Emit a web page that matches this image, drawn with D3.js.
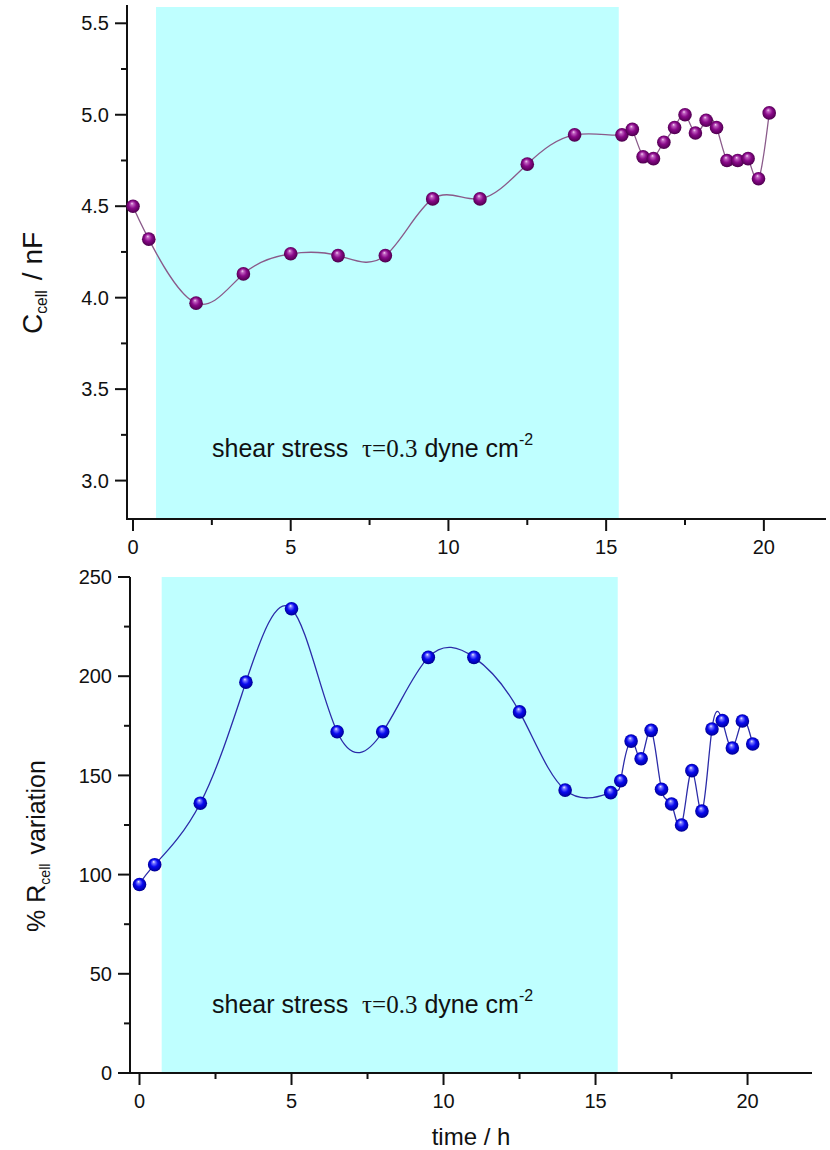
<!DOCTYPE html>
<html>
<head>
<meta charset="utf-8">
<script src="https://cdn.jsdelivr.net/npm/d3@7"></script>
<style>
  body { margin: 0; background: #fff; }
  text { font-family: "Liberation Sans", Arial, sans-serif; fill: #111; }
</style>
</head>
<body>
<svg id="chart" width="830" height="1150"></svg>
<script>
// Sampling times (h)
const timeH = [0, 0.5, 2, 3.5, 5, 6.5, 8, 9.5, 11, 12.5, 14, 15.5,
  15.83, 16.17, 16.5, 16.83, 17.17, 17.5, 17.83, 18.17, 18.5, 18.83, 19.17, 19.5, 19.83, 20.17];
// Cell capacitance (nF)
const capacitance = [4.50, 4.32, 3.97, 4.13, 4.24, 4.23, 4.23, 4.54, 4.54, 4.73, 4.89, 4.89,
  4.92, 4.77, 4.76, 4.85, 4.93, 5.00, 4.90, 4.97, 4.93, 4.75, 4.75, 4.76, 4.65, 5.01];
// Cell resistance variation (%)
const resistance = [95, 105, 136, 197, 234, 172, 172, 209.5, 209.5, 182, 142.6, 141.3,
  147.3, 167.3, 158.4, 172.7, 143, 135.6, 125, 152.4, 132, 173.4, 177.6, 163.8, 177.4, 165.8];
// Shear stress window (h)
const shearWindow = [0.73, 15.4];
const shearWindowR = [0.73, 15.73];
// Tick values
const xTicks = [0, 5, 10, 15, 20];
const xMinor = [2.5, 7.5, 12.5, 17.5];
const capTicks = [3.0, 3.5, 4.0, 4.5, 5.0, 5.5];
const capMinor = [3.25, 3.75, 4.25, 4.75, 5.25];
const resTicks = [0, 50, 100, 150, 200, 250];
const resMinor = [25, 75, 125, 175, 225];

const svg = d3.select("#chart");
const defs = svg.append("defs");

function sphereGradient(id, stops) {
  const g = defs.append("radialGradient").attr("id", id)
    .attr("cx", "50%").attr("cy", "50%").attr("r", "55%")
    .attr("fx", "42%").attr("fy", "28%");
  stops.forEach(([o, c]) => g.append("stop").attr("offset", o).attr("stop-color", c));
}
sphereGradient("ballPurple", [[0, "#f4d8f4"], [0.18, "#c060c0"], [0.5, "#8a0a8a"], [0.85, "#5a005a"], [1, "#3c003c"]]);
sphereGradient("ballBlue", [[0, "#f0f0ff"], [0.18, "#7a7aff"], [0.5, "#0a0af0"], [0.85, "#0000a8"], [1, "#00006a"]]);

function panel(cfg) {
  const x = d3.scaleLinear().domain(cfg.xDomain).range(cfg.xRange);
  const y = d3.scaleLinear().domain(cfg.yDomain).range(cfg.yRange);
  const g = svg.append("g");
  const x0 = cfg.xRange[0], yb = cfg.yRange[0], yt = cfg.yRange[1];

  // shaded shear stress window
  g.append("rect")
    .attr("x", x(cfg.band[0])).attr("width", x(cfg.band[1]) - x(cfg.band[0]))
    .attr("y", cfg.bandTop).attr("height", yb - cfg.bandTop)
    .attr("fill", "#bfffff");

  // annotation
  const t = g.append("text").attr("x", 212).attr("y", cfg.noteY)
    .attr("font-size", 25).style("white-space", "pre");
  t.append("tspan").text("shear stress  ");
  t.append("tspan").attr("font-family", "'Liberation Serif', 'Times New Roman', serif").text("τ=0.3");
  t.append("tspan").text(" dyne cm");
  t.append("tspan").attr("font-size", 16).attr("dy", -12).text("-2");

  // axes
  const ax = g.append("g").attr("stroke", "#111").attr("stroke-width", 2).attr("fill", "none");
  ax.append("line").attr("x1", x0).attr("x2", x0).attr("y1", yt).attr("y2", yb + 1);
  ax.append("line").attr("x1", x0 - 1).attr("x2", cfg.xRange[1]).attr("y1", yb).attr("y2", yb);
  ax.selectAll(".yt").data(cfg.yTicks).join("line")
    .attr("x1", x0 - 12).attr("x2", x0).attr("y1", d => y(d)).attr("y2", d => y(d));
  ax.selectAll(".ym").data(cfg.yMinor).join("line")
    .attr("x1", x0 - 6).attr("x2", x0).attr("y1", d => y(d)).attr("y2", d => y(d));
  ax.selectAll(".xt").data(xTicks).join("line")
    .attr("x1", d => x(d)).attr("x2", d => x(d)).attr("y1", yb).attr("y2", yb + 12);
  ax.selectAll(".xm").data(xMinor).join("line")
    .attr("x1", d => x(d)).attr("x2", d => x(d)).attr("y1", yb).attr("y2", yb + 6);

  g.selectAll(".ytl").data(cfg.yTicks).join("text")
    .attr("x", x0 - 18).attr("y", d => y(d)).attr("dy", "0.36em")
    .attr("text-anchor", "end").attr("font-size", 20)
    .text(cfg.yFormat);
  g.selectAll(".xtl").data(xTicks).join("text")
    .attr("x", d => x(d)).attr("y", yb + 35)
    .attr("text-anchor", "middle").attr("font-size", 20)
    .text(d => d);

  // y title
  const yt2 = g.append("text")
    .attr("transform", `translate(${cfg.titleX},${cfg.titleY}) rotate(-90)`)
    .attr("text-anchor", "middle").attr("font-size", cfg.titleSize);
  cfg.title.forEach(([s, sub]) => {
    if (sub) {
      yt2.append("tspan").attr("font-size", cfg.titleSize * 0.56).attr("dy", 5).text(s);
      yt2.append("tspan").attr("dy", -5).text("\u200a");
    } else yt2.append("tspan").text(s);
  });

  // series line
  const pts = timeH.map((d, i) => [d, cfg.values[i]]);
  g.append("path").datum(pts)
    .attr("fill", "none").attr("stroke", cfg.lineColor).attr("stroke-width", 1.3)
    .attr("d", d3.line().x(d => x(d[0])).y(d => y(d[1])).curve(d3.curveNatural));

  // spherical markers
  g.selectAll(".ball").data(pts).join("circle")
    .attr("cx", d => x(d[0])).attr("cy", d => y(d[1])).attr("r", 6.8)
    .attr("fill", `url(#${cfg.ball})`);
}

panel({
  xDomain: [-0.19, 21.97], xRange: [127, 826],
  yDomain: [2.79, 5.6], yRange: [519, 5],
  yTicks: capTicks, yMinor: capMinor, yFormat: d3.format(".1f"),
  band: shearWindow, bandTop: 7, noteY: 457,
  values: capacitance, lineColor: "#8a5a8a", ball: "ballPurple",
  title: [["C"], ["cell", true], [" / nF"]], titleX: 42, titleY: 283, titleSize: 28
});

panel({
  xDomain: [-0.3125, 22.12], xRange: [130, 812],
  yDomain: [0, 250], yRange: [1073, 577],
  yTicks: resTicks, yMinor: resMinor, yFormat: d => d,
  band: shearWindowR, bandTop: 577, noteY: 1013,
  values: resistance, lineColor: "#2b2ba8", ball: "ballBlue",
  title: [["% R"], ["cell", true], [" variation"]], titleX: 45, titleY: 846, titleSize: 25
});

svg.append("text").attr("x", 471).attr("y", 1145)
  .attr("text-anchor", "middle").attr("font-size", 24).text("time / h");
</script>
</body>
</html>
